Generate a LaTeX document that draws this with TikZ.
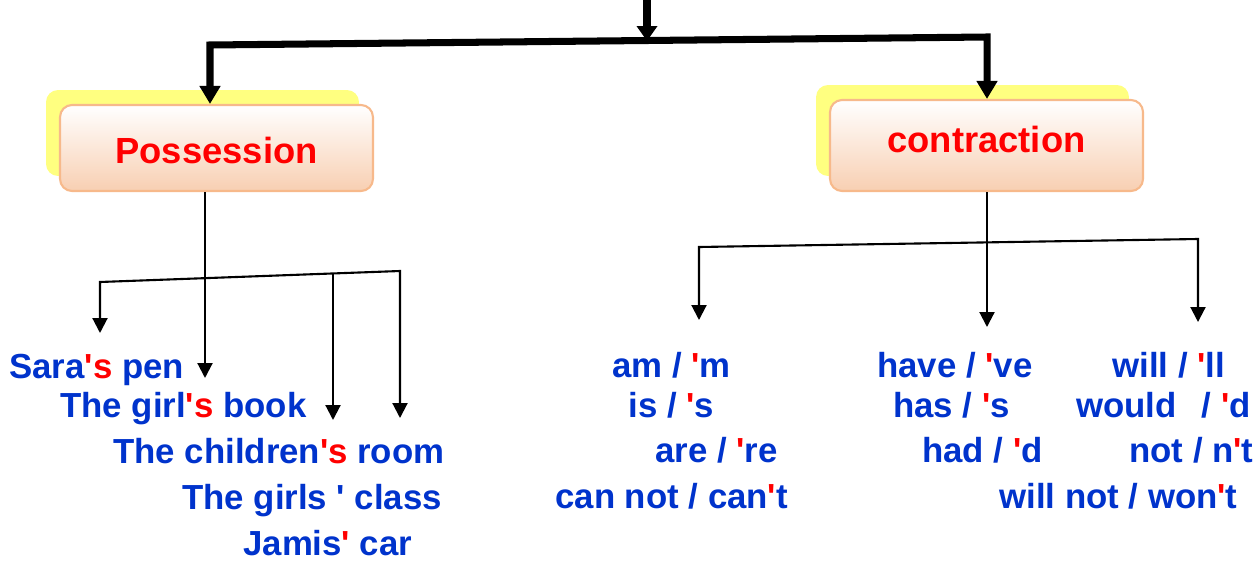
\documentclass[tikz,border=0pt]{standalone}
\usepackage{fontspec}
\setmainfont{Liberation Sans}
\usetikzlibrary{arrows.meta,shadows}
\definecolor{txtblue}{RGB}{0,51,204}
\definecolor{boxedge}{RGB}{247,185,139}
\definecolor{boxpeach}{RGB}{248,207,178}
\definecolor{shadowyellow}{RGB}{255,255,128}
\newcommand\redq{\textcolor{red}{\textquotesingle}}
\tikzset{
  topic/.style = {draw=boxedge, line width=1.2pt, rounded corners=0.24cm,
                  top color=white, bottom color=boxpeach,
                  minimum width=6.26cm, minimum height=1.72cm,
                  text=red, font=\fontsize{20.7}{24}\selectfont\bfseries,
                  general shadow={fill=shadowyellow, shadow xshift=-0.28cm, shadow yshift=0.3cm}},
  example/.style = {anchor=base west, inner sep=0pt, text=txtblue,
                    font=\fontsize{19.8}{24}\selectfont\bfseries},
  big/.style = {line width=4pt, {Triangle[length=0.36cm,width=0.4cm]}-{Triangle[length=0.36cm,width=0.4cm]}},
  link/.style = {line width=1.2pt, -{Triangle[length=0.3cm,width=0.3cm]}}
}
\begin{document}
\begin{tikzpicture}[x=0.02cm,y=-0.02cm]
	\useasboundingbox (0,0) rectangle (1257,561);

	% Boxes
	\node[topic, text height=0.62cm, text depth=0pt] (poss) at (216.5,148) {Possession};
	\node[topic, minimum height=1.82cm, text depth=0.26cm] (con) at (986.5,145.5) {contraction};

	% Top branch
	\coordinate (src) at (647,0);
	\coordinate (jt)  at (647,41);
	\coordinate (jl)  at (210,45);
	\coordinate (jr)  at (987,37);
	\draw[big] (poss.north -| jl) -- (jl) -- (jr) -- (con.north -| jr);
	\draw[big, {}-{Triangle[length=0.3cm,width=0.4cm]}] (src) -- (jt);

	% Possession examples
	\node[example] (sara)     at (9,378)   {Sara\redq\textcolor{red}{s} pen};
	\node[example] (girl)     at (60,417)  {The girl\redq\textcolor{red}{s} book};
	\node[example] (children) at (113,463) {The children\redq\textcolor{red}{s} room};
	\node[example] (girls)    at (182,509) {The girls \textquotesingle\ class};
	\node[example] (jamis)    at (243,555) {Jamis\redq\ car};

	\coordinate (pl)     at (100,282);
	\coordinate (pm)     at (333,273.5);
	\coordinate (pr)     at (400,271);
	\coordinate (tsara)  at (100,333);
	\coordinate (tgirl)  at (205,378);
	\coordinate (tchild) at (333,420);
	\coordinate (tclass) at (400,418);
	\draw[link] (poss.south -| tgirl) -- (tgirl);
	\draw[link, {Triangle[length=0.3cm,width=0.3cm]}-{Triangle[length=0.3cm,width=0.3cm]}] (tsara) -- (pl) -- (pr) -- (tclass);
	\draw[link] (pm) -- (tchild);

	% Contraction examples
	\node[example] (am)      at (612,377)  {am / \redq m};
	\node[example] (is)      at (628,417)  {is / \redq s};
	\node[example] (are)     at (655,462)  {are / \redq re};
	\node[example] (cannot)  at (555,508)  {can not / can\redq t};
	\node[example] (have)    at (877,377)  {have / \redq ve};
	\node[example] (has)     at (893,417)  {has / \redq s};
	\node[example] (had)     at (922,462)  {had / \redq d};
	\node[example] (willnot) at (999,508)  {will not / won\redq t};
	\node[example] (will)    at (1112,377) {will / \redq ll};
	\node[example] (would)   at (1076,417) {would\hspace{0.5cm}/ \redq d};
	\node[example] (not)     at (1129,462) {not / n\redq t};

	\coordinate (cl)   at (699,247);
	\coordinate (cr)   at (1198,239);
	\coordinate (tam)  at (699,320);
	\coordinate (tmid) at (987,327);
	\coordinate (twil) at (1198,322);
	\draw[link] (con.south -| tmid) -- (tmid);
	\draw[link, {Triangle[length=0.3cm,width=0.3cm]}-{Triangle[length=0.3cm,width=0.3cm]}] (tam) -- (cl) -- (cr) -- (twil);

\end{tikzpicture}
\end{document}
